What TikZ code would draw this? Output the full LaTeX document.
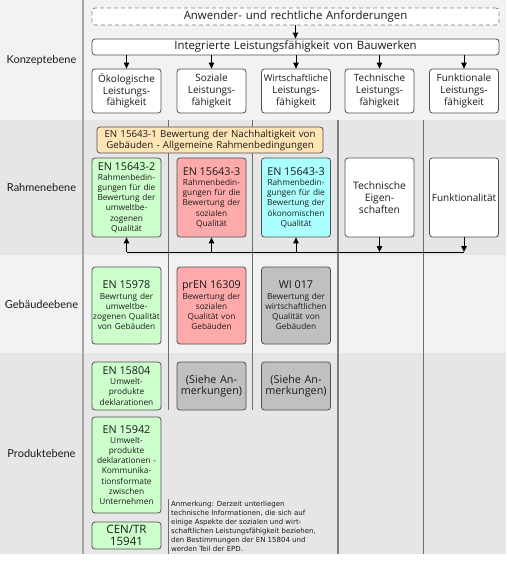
\documentclass[tikz,border=0pt]{standalone}
\usepackage{fontspec}
\setmainfont{Open Sans}
\newfontfamily\labelfont{Lato}
\newfontfamily\notefont{DejaVu Sans}
\usetikzlibrary{arrows.meta}
\definecolor{bandA}{HTML}{F2F2F2}
\definecolor{bandB}{HTML}{E6E6E6}
\definecolor{boxline}{HTML}{505050}
\definecolor{txt}{HTML}{1A1A1A}
\definecolor{fgreen}{HTML}{CCFFCC}
\definecolor{fred}{HTML}{FFAAAA}
\definecolor{fcyan}{HTML}{AAFFFF}
\definecolor{fgray}{HTML}{C0C0C0}
\definecolor{forange}{HTML}{FFE4B5}
\definecolor{leftline}{HTML}{A6A6A6}
\definecolor{colline}{HTML}{6E6E6E}
\newcommand\fmain{\fontsize{10}{11.7}\selectfont}
\newcommand\ftitle{\fontsize{11.4}{13}\selectfont}
\newcommand\fsmall{\fontsize{8.3}{10.2}\selectfont}
\newcommand\fbig{\fontsize{10.8}{12}\selectfont}
\begin{document}
\begin{tikzpicture}[x=1pt,y=-1pt,
  box/.style={draw=boxline, line width=0.8pt, rounded corners=3pt, fill=white,
    inner sep=0pt, align=center, text=txt, font=\fmain,
    minimum width=69pt, text width=67pt},
  wide/.style={box, font=\ftitle, minimum width=407pt, text width=400pt},
  arr/.style={-{Triangle[length=6pt,width=5.5pt]}, line width=0.9pt, black},
  bus/.style={line width=0.9pt, black},
  lvl/.style={font=\labelfont\fontsize{11}{13}\selectfont, text=txt},
  colln/.style={draw=colline, line width=0.8pt}]
\useasboundingbox (0,0) rectangle (506,564);
% bands
\fill[bandA] (0,0) rectangle (506,120);
\fill[bandB] (0,120) rectangle (506,255);
\fill[bandA] (0,255) rectangle (506,353);
\fill[bandB] (0,353) rectangle (506,554);
\draw[draw=leftline, line width=2pt] (83,0) -- (83,554);
% column lines
\draw[colln] (168,120) -- (168,410);
\draw[colln] (252,120) -- (252,410);
\draw[colln, draw=gray, line width=1.2pt] (338,120) -- (338,554);
\draw[colln] (423,120) -- (423,554);
\draw[colln] (168,499) -- (168,554);
% level labels
\node[lvl] (l1) at (41.5,60) {Konzeptebene};
\node[lvl] (l2) at (41.5,187.5) {Rahmenebene};
\node[lvl] (l3) at (41.5,304) {Gebäudeebene};
\node[lvl] (l4) at (41.5,453.5) {Produktebene};
% concept level
\node[wide, dashed, draw=gray, dash pattern=on 4pt off 3pt, minimum height=17pt] (anw) at (295.5,16.5) {Anwender- und rechtliche Anforderungen};
\node[wide, minimum height=16pt] (integ) at (295.5,47) {Integrierte Leistungsfähigkeit von Bauwerken};
\node[box, minimum height=44pt] (k1) at (126.5,91) {Ökologische\\Leistungs-\\fähigkeit};
\node[box, minimum height=44pt] (k2) at (211.5,91) {Soziale\\Leistungs-\\fähigkeit};
\node[box, minimum height=44pt] (k3) at (296,91) {{\fontsize{9.3}{11.7}\selectfont Wirtschaftliche}\\Leistungs-\\fähigkeit};
\node[box, minimum height=44pt] (k4) at (379.5,91) {Technische\\Leistungs-\\fähigkeit};
\node[box, minimum height=44pt] (k5) at (464,91) {Funktionale\\Leistungs-\\fähigkeit};
\draw[arr] (anw) -- (integ);
\foreach \k in {k1,k2,k3,k4,k5} \draw[arr] (\k.north |- integ.south) -- (\k.north);
% framework level
\node[box, fill=forange, font=\fontsize{9.7}{11}\selectfont, minimum width=226pt, text width=222pt, minimum height=26pt] (en1) at (210,140) {EN 15643-1 Bewertung der Nachhaltigkeit von\\Gebäuden - Allgemeine Rahmenbedingungen};
\node[box, fill=fgreen, font=\fsmall, minimum height=79pt] (r1) at (126.5,197.5) {{\fbig EN 15643-2\par}Rahmenbedin-\\gungen für die\\Bewertung der\\umweltbe-\\zogenen\\Qualität};
\node[box, fill=fred, font=\fsmall, minimum height=79pt] (r2) at (211.5,197.5) {{\fbig EN 15643-3\par}Rahmenbedin-\\gungen für die\\Bewertung der\\sozialen\\Qualität};
\node[box, fill=fcyan, font=\fsmall, minimum height=79pt] (r3) at (296,197.5) {{\fbig EN 15643-3\par}Rahmenbedin-\\gungen für die\\Bewertung der\\ökonomischen\\Qualität};
\node[box, font=\fontsize{10.3}{12}\selectfont, minimum height=79pt] (r4) at (379.5,197.5) {Technische\\Eigen-\\schaften};
\node[box, minimum height=79pt] (r5) at (464,197.5) {Funktionalität};
\coordinate (busL) at (126.5,252);
\coordinate (busR) at (464,252);
\draw[bus] (busL) -- (busR);
\draw[arr] (r4.south) -- (r4.south |- busR);
\draw[arr] (r5.south) -- (busR);
\draw[arr] (busL) -- (r1.south);
\draw[arr] (r2.south |- busL) -- (r2.south);
\draw[arr] (r3.south |- busL) -- (r3.south);
% building level
\node[box, fill=fgreen, font=\fsmall, minimum height=77pt] (g1) at (126.5,305.5) {{\fbig EN 15978\par}Bewrtung der\\umweltbe-\\zogenen Qualität\\von Gebäuden};
\node[box, fill=fred, font=\fsmall, minimum height=77pt] (g2) at (211.5,305.5) {{\fbig prEN 16309\par}Bewertung der\\sozialen\\Qualität von\\Gebäuden};
\node[box, fill=fgray, font=\fsmall, minimum height=77pt] (g3) at (296,305.5) {{\fbig WI 017\par}Bewertung der\\wirtschaftlichen\\Qualität von\\Gebäuden};
% product level
\node[box, fill=fgreen, font=\fsmall, minimum height=48pt] (p1) at (126.5,386) {{\fbig EN 15804\par}Umwelt-\\produkte\\deklarationen};
\node[box, fill=fgray, font=\fontsize{10.8}{11.5}\selectfont, minimum height=48pt] (s2) at (211.5,386) {(Siehe An-\\merkungen)};
\node[box, fill=fgray, font=\fontsize{10.8}{11.5}\selectfont, minimum height=48pt] (s3) at (296,386) {(Siehe An-\\merkungen)};
\node[box, fill=fgreen, font=\fsmall, minimum height=96pt] (p2) at (126.5,465) {{\fbig EN 15942\par}Umwelt-\\produkte\\deklarationen -\\Kommunika-\\tionsformate\\zwischen\\Unternehmen};
\node[box, fill=fgreen, font=\fontsize{11.5}{12}\selectfont, minimum height=27pt] (p3) at (126.5,535.5) {CEN/TR\\15941};
\node[anchor=north west, align=left, inner sep=0pt, text=txt, font=\notefont\fontsize{7}{9}\selectfont] (note) at (171,501) {Anmerkung: Derzeit unterliegen\\technische Informationen, die sich auf\\einige Aspekte der sozialen und wirt-\\schaftlichen Leistungsfähigkeit beziehen,\\den Bestimmungen der EN 15804 und\\werden Teil der EPD.};
\end{tikzpicture}
\end{document}
